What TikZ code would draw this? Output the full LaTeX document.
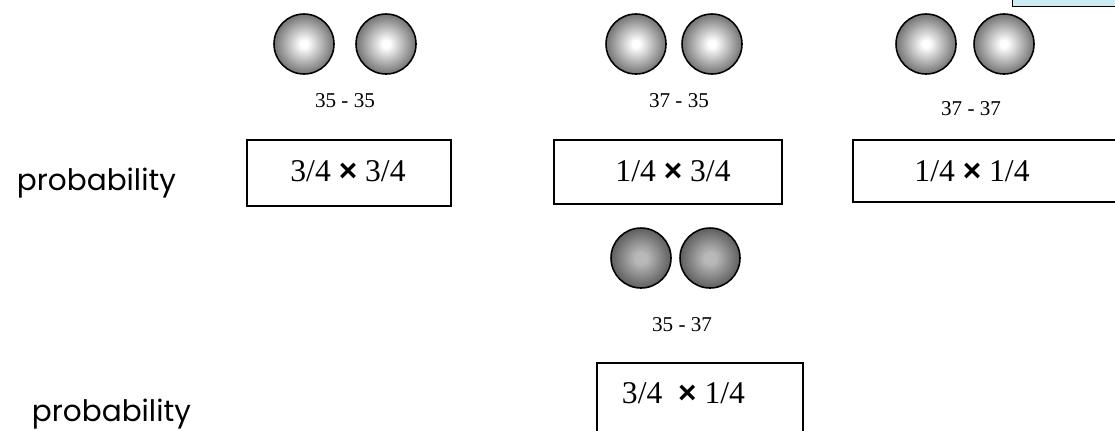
\documentclass[tikz,border=0pt]{standalone}
\usepackage{fontspec}
\setmainfont{Liberation Serif}
\newfontfamily\probfont{Poppins}
\newfontfamily\signfont{Liberation Sans}
\usetikzlibrary{positioning}
\definecolor{notecyan}{RGB}{205,235,241}
\pgfdeclareradialshading{lightgrad}{\pgfpoint{0bp}{0bp}}{color(0bp)=(white); color(3bp)=(white); color(25bp)=(black!55); color(50bp)=(black!55)}
\pgfdeclareradialshading{darkgrad}{\pgfpoint{0bp}{0bp}}{color(0bp)=(black!27); color(5bp)=(black!28); color(25bp)=(black!63); color(50bp)=(black!63)}
\newcommand{\crosssign}{{\signfont\bfseries ×}}

\begin{document}
\begin{tikzpicture}[
    x=0.025cm, y=-0.025cm,
    ball/.style={circle, draw, line width=1.1pt, minimum size=1.5cm, inner sep=0pt, shade, shading=lightgrad},
    darkball/.style={ball, shading=darkgrad},
    pair/.style={font=\fontsize{15}{15}\selectfont, anchor=base},
    probbox/.style={rectangle, draw, line width=1.1pt, anchor=north west, inner sep=0pt},
    product/.style={font=\fontsize{22.5}{22.5}\selectfont, anchor=base},
    caption/.style={font=\probfont\fontsize{21}{21}\selectfont, anchor=base west},
    notebox/.style={rectangle, draw, fill=notecyan, line width=0.6pt, anchor=south west}
]
\useasboundingbox (0,0) rectangle (1115,430);

% Note box (cut off at the corner)
\node[notebox, minimum width=4cm, minimum height=1.5cm] (note) at (1012,7) {};

% Pair 35 - 35
\node[ball] (a1) at (304,44) {};
\node[ball] (a2) at (386,44) {};
\node[pair] (a_lbl) at (345,107) {35 - 35};

% Pair 37 - 35
\node[ball] (b1) at (636,44) {};
\node[ball] (b2) at (712,44) {};
\node[pair] (b_lbl) at (679,107) {37 - 35};

% Pair 37 - 37
\node[ball] (c1) at (926,44) {};
\node[ball] (c2) at (1004,44) {};
\node[pair] (c_lbl) at (971,115) {37 - 37};

% Pair 35 - 37
\node[darkball] (d1) at (641,258) {};
\node[darkball] (d2) at (710,258) {};
\node[pair] (d_lbl) at (682,331) {35 - 37};

% Probability boxes
\node[probbox, minimum width=5.1cm, minimum height=1.65cm] (a_box) at (246,139) {};
\node[probbox, minimum width=5.7cm, minimum height=1.6cm] (b_box) at (553,139) {};
\node[probbox, minimum width=7.5cm, minimum height=1.55cm] (c_box) at (852,139) {};
\node[probbox, minimum width=5.15cm, minimum height=2.5cm] (d_box) at (596,362) {};
\node[product] (a_prob) at (348,181) {3/4 \crosssign{} 3/4};
\node[product] (b_prob) at (673,181) {1/4 \crosssign{} 3/4};
\node[product] (c_prob) at (972,181) {1/4 \crosssign{} 1/4};
\node[product, anchor=base west] (d_prob) at (617,403) {3/4\ \ \crosssign{} 1/4};

% Row captions
\node[caption] (top_cap) at (12,190) {probability};
\node[caption] (bot_cap) at (27,421) {probability};

\end{tikzpicture}
\end{document}
